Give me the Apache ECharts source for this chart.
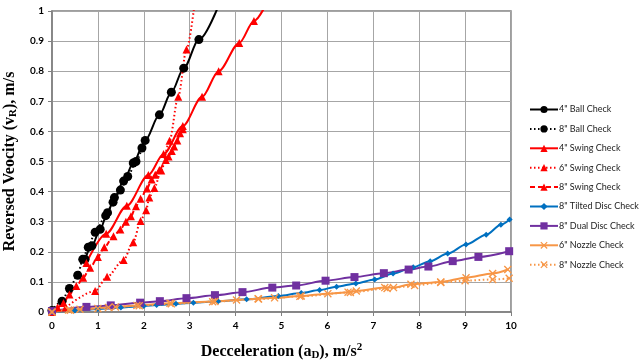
<!DOCTYPE html>
<html>
<head>
<meta charset="utf-8">
<script src="https://cdn.jsdelivr.net/npm/echarts@6/dist/echarts.min.js"></script>
<style>html,body{margin:0;padding:0;background:#fff}#c{width:641px;height:360px}</style>
</head>
<body>
<div id="c"></div>
<script>
// ---- data ----
const seriesNames = ['4" Ball Check','8" Ball Check','4" Swing Check','6" Swing Check','8" Swing Check','8" Tilted Disc Check','8" Dual Disc Check','6" Nozzle Check','8" Nozzle Check'];
const ball4 = [[0.72,0.175],[0.87,0.22],[1.05,0.275],[1.21,0.33],[1.36,0.38],[1.56,0.435],[1.77,0.495],[2.03,0.57],[2.34,0.655],[2.6,0.73],[2.87,0.81],[3.2,0.905],[3.75,1.065]];
const ball8 = [[0.0,0.005],[0.22,0.036],[0.38,0.078],[0.56,0.122],[0.67,0.175],[0.79,0.215],[0.94,0.265],[1.17,0.32],[1.33,0.365],[1.49,0.405],[1.65,0.45],[1.83,0.5],[1.96,0.545]];
const swing4 = [[0.75,0.163],[1.18,0.26],[1.63,0.353],[2.1,0.455],[2.43,0.525],[2.85,0.618],[3.27,0.715],[3.63,0.8],[4.08,0.894],[4.4,0.967],[4.75,1.05]];
const swing6 = [[0.3,0.015],[0.94,0.07],[1.2,0.117],[1.56,0.173],[1.77,0.232],[1.93,0.302],[2.05,0.338],[2.12,0.38],[2.23,0.412],[2.38,0.47],[2.56,0.569],[2.75,0.715],[2.93,0.872],[3.15,1.08]];
const swing8 = [[0.0,0.0],[0.12,0.015],[0.25,0.03],[0.38,0.058],[0.53,0.086],[0.68,0.114],[0.83,0.147],[1.0,0.183],[1.14,0.215],[1.34,0.252],[1.49,0.274],[1.61,0.3],[1.72,0.318],[1.83,0.351],[1.93,0.376],[2.07,0.41],[2.17,0.44],[2.25,0.456],[2.34,0.472],[2.48,0.505],[2.54,0.517],[2.61,0.535],[2.66,0.55],[2.73,0.57],[2.79,0.594],[2.85,0.607]];
const tilted8 = [[0.0,0.0],[0.5,0.005],[1.0,0.01],[1.5,0.015],[2.0,0.02],[2.28,0.023],[2.7,0.027],[3.08,0.031],[3.62,0.036],[4.24,0.042],[4.93,0.053],[5.43,0.063],[5.83,0.073],[6.2,0.084],[6.62,0.095],[7.03,0.108],[7.43,0.128],[7.87,0.149],[8.24,0.169],[8.62,0.194],[9.02,0.224],[9.46,0.257],[9.78,0.29],[9.97,0.307]];
const dual8 = [[0.0,0.003],[0.75,0.017],[1.28,0.022],[1.92,0.031],[2.35,0.036],[2.93,0.046],[3.55,0.056],[4.15,0.066],[4.8,0.081],[5.32,0.088],[5.96,0.104],[6.59,0.116],[7.23,0.129],[7.77,0.141],[8.2,0.151],[8.73,0.169],[9.29,0.183],[9.96,0.202]];
const nozzle6 = [[0.0,0.0],[0.36,0.007],[0.61,0.009],[1.23,0.015],[1.38,0.017],[1.85,0.022],[2.57,0.029],[3.55,0.035],[4.02,0.04],[4.49,0.044],[4.85,0.047],[5.43,0.053],[6.01,0.061],[6.45,0.066],[6.63,0.07],[7.25,0.081],[7.44,0.081],[7.82,0.092],[8.47,0.1],[9.02,0.114],[9.6,0.128],[9.93,0.141]];
const nozzle8 = [[0.0,0.0],[0.4,0.006],[1.0,0.012],[1.9,0.021],[2.6,0.027],[3.5,0.034],[4.5,0.043],[5.4,0.052],[6.5,0.065],[7.3,0.078],[7.9,0.088],[8.47,0.098],[9.0,0.104],[9.6,0.108],[9.96,0.112]];
const xTickLabels = ['0','1','2','3','4','5','6','7','8','9','10'];
const yTickLabels = ['0','0.1','0.2','0.3','0.4','0.5','0.6','0.7','0.8','0.9','1'];

const xShape = 'path://M0,1.2 L1.2,0 L5,3.8 L8.8,0 L10,1.2 L6.2,5 L10,8.8 L8.8,10 L5,6.2 L1.2,10 L0,8.8 L3.8,5 Z';

function mk(name, data, color, lineType, symbol, size) {
  return {
    name: name, type: 'line', data: data, smooth: 0.3, smoothMonotone: 'x',
    clip: true, symbol: symbol, symbolSize: size, showSymbol: true,
    lineStyle: { color: color, width: 2, type: lineType },
    itemStyle: { color: color, borderWidth: 0 },
    emphasis: { disabled: true }, animation: false
  };
}

const chart = echarts.init(document.getElementById('c'), null, { renderer: 'canvas' });
chart.setOption({
  animation: false,
  grid: { left: 52, right: 130, top: 11, bottom: 48, outerBoundsMode: 'none', containLabel: false,
    show: true, borderColor: '#7f7f7f', borderWidth: 1.5, backgroundColor: '#fff' },
  legend: {
    orient: 'vertical', left: 524, top: 100, itemWidth: 28, itemHeight: 9, itemGap: 10.4,
    textStyle: { fontFamily: 'Lato', fontSize: 9, color: '#222', padding: [0,0,0,-4] },
    data: seriesNames
  },
  xAxis: {
    type: 'value', min: 0, max: 10, interval: 1,
    name: '{b|Decceleration (a}{sub|D}{b|), m/s}{sup|2}', nameLocation: 'middle', nameGap: 30,
    nameTextStyle: {
      rich: {
        b: { fontFamily: 'Liberation Serif', fontWeight: 'bold', fontSize: 16, color: '#000' },
        sub: { fontFamily: 'Liberation Serif', fontWeight: 'bold', fontSize: 11, color: '#000', padding: [8,0,0,0] },
        sup: { fontFamily: 'Liberation Serif', fontWeight: 'bold', fontSize: 11, color: '#000', padding: [0,0,8,0] }
      }
    },
    axisLine: { show: true, lineStyle: { color: '#7f7f7f', width: 1.5 } },
    axisTick: { show: true, length: 4, lineStyle: { color: '#7f7f7f' } },
    splitLine: { show: true, lineStyle: { color: '#a6a6a6', width: 1 } },
    axisLabel: { fontFamily: 'Lato', fontWeight: 'bold', fontSize: 10, color: '#000', margin: 9,
      formatter: (v, i) => xTickLabels[Math.round(v)] }
  },
  yAxis: {
    type: 'value', min: 0, max: 1, interval: 0.1,
    name: '{b|Reversed Veocity (v}{sub|R}{b|), m/s}', nameLocation: 'middle', nameGap: 26, nameRotate: 90,
    nameTextStyle: {
      rich: {
        b: { fontFamily: 'Liberation Serif', fontWeight: 'bold', fontSize: 16, color: '#000' },
        sub: { fontFamily: 'Liberation Serif', fontWeight: 'bold', fontSize: 11, color: '#000', padding: [8,0,0,0] }
      }
    },
    axisLine: { show: true, lineStyle: { color: '#7f7f7f', width: 1.5 } },
    axisTick: { show: true, length: 4, lineStyle: { color: '#7f7f7f' } },
    splitLine: { show: true, lineStyle: { color: '#a6a6a6', width: 1 } },
    axisLabel: { fontFamily: 'Lato', fontWeight: 'bold', fontSize: 10, color: '#000', margin: 8,
      formatter: (v) => yTickLabels[Math.round(v * 10)] }
  },
  series: [
    mk(seriesNames[0], ball4, '#000000', 'solid', 'circle', 9),
    mk(seriesNames[1], ball8, '#000000', [1.5, 2.5], 'circle', 9),
    mk(seriesNames[2], swing4, '#ff0000', 'solid', 'triangle', 8),
    mk(seriesNames[3], swing6, '#ff0000', [1.5, 2.5], 'triangle', 8),
    mk(seriesNames[4], swing8, '#ff0000', [5, 3], 'triangle', 8),
    mk(seriesNames[5], tilted8, '#0070c0', 'solid', 'diamond', 6),
    mk(seriesNames[6], dual8, '#7030a0', 'solid', 'rect', 8),
    mk(seriesNames[7], nozzle6, '#f79646', 'solid', xShape, 8),
    mk(seriesNames[8], nozzle8, '#f79646', [1.5, 2.5], xShape, 8)
  ]
});
</script>
</body>
</html>
